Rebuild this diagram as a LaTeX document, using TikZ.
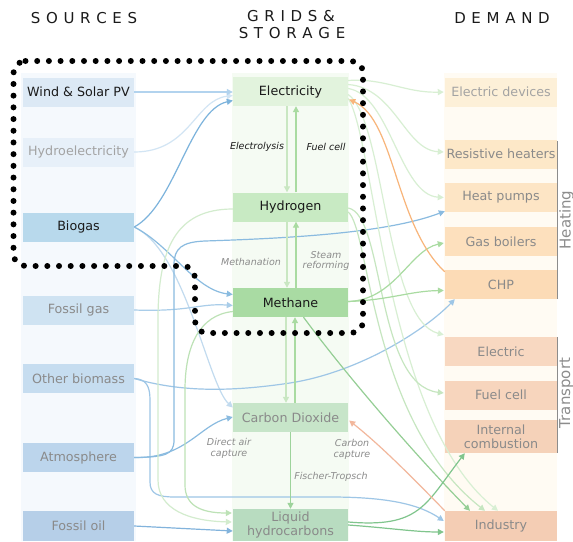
\documentclass[tikz,border=0pt]{standalone}
\usepackage{fontspec}
\setmainfont{DejaVu Sans}
\usetikzlibrary{arrows.meta,calc}
\definecolor{bgS}{HTML}{F5F9FD}
\definecolor{bgM}{HTML}{F5FBF3}
\definecolor{bgD}{HTML}{FFFBF3}
\definecolor{fWind}{HTML}{DCE9F5}
\definecolor{fHydro}{HTML}{E7F0F9}
\definecolor{fBio}{HTML}{B8D9EC}
\definecolor{fFgas}{HTML}{CFE3F2}
\definecolor{fObio}{HTML}{C6DDF0}
\definecolor{fAtm}{HTML}{BCD5EC}
\definecolor{fFoil}{HTML}{B6CFE8}
\definecolor{fElec}{HTML}{E2F3DD}
\definecolor{fH2}{HTML}{C8EAC3}
\definecolor{fMeth}{HTML}{A9DBA3}
\definecolor{fCO2}{HTML}{C7E5C9}
\definecolor{fLH}{HTML}{B8DCC0}
\definecolor{fED}{HTML}{FDF0D8}
\definecolor{fRH}{HTML}{FDE8C8}
\definecolor{fHP}{HTML}{FDE5C5}
\definecolor{fGB}{HTML}{FDE0BD}
\definecolor{fCHP}{HTML}{FCDBB6}
\definecolor{fETR}{HTML}{F8D8C1}
\definecolor{fFC}{HTML}{F7D5BD}
\definecolor{fIC}{HTML}{F5D2B9}
\definecolor{fInd}{HTML}{F4CDB4}
\definecolor{tGray}{HTML}{8A8A8A}
\definecolor{tLight}{HTML}{A3A3A3}
\definecolor{tDark}{HTML}{1A1A1A}
\definecolor{lGray}{HTML}{8C8C8C}
\definecolor{cWind}{HTML}{B2D3EE}
\definecolor{cHydro}{HTML}{D2E5F4}
\definecolor{cBioE}{HTML}{7CB3DC}
\definecolor{cBioM}{HTML}{8BBCE0}
\definecolor{cBioC}{HTML}{C2DBEF}
\definecolor{cFgas}{HTML}{A9CDE9}
\definecolor{cObio}{HTML}{9EC6E6}
\definecolor{cAtm}{HTML}{8ABBE0}
\definecolor{cFoil}{HTML}{82B3DC}
\definecolor{gA}{HTML}{C9E7C2}
\definecolor{gB}{HTML}{A9DBA1}
\definecolor{gC}{HTML}{9DD39B}
\definecolor{gEl}{HTML}{D8EFD3}
\definecolor{gH}{HTML}{C6E6C0}
\definecolor{gM}{HTML}{A9DBA1}
\definecolor{gMi}{HTML}{95CE95}
\definecolor{gL}{HTML}{80C58D}
\definecolor{gHL}{HTML}{D3ECCE}
\definecolor{gML}{HTML}{BDE2B6}
\definecolor{oChp}{HTML}{F8B57A}
\definecolor{oInd}{HTML}{F2B79C}
\definecolor{brk}{HTML}{8C8C8C}
\begin{document}
\begin{tikzpicture}[x=1pt,y=-1pt,
  box/.style={rectangle, inner sep=0pt, minimum height=29pt, font=\fontsize{12.7}{14.5}\selectfont, text=tGray, align=center},
  src/.style={box, minimum width=111pt},
  mid/.style={box, minimum width=115pt},
  dem/.style={box, minimum width=112pt},
  lbl/.style={font=\fontsize{9.5}{10.5}\selectfont\itshape, text=lGray, align=center, inner sep=0pt},
  hdr/.style={font=\fontsize{15}{17}\selectfont, text=tDark, anchor=base, inner sep=0pt},
  arr/.style={-{Triangle[length=6pt,width=6pt]}, line width=1.2pt},
  side/.style={font=\fontsize{15}{17}\selectfont, text=brk, rotate=90, anchor=north, inner sep=0pt}]
\useasboundingbox (0,0) rectangle (573,541);
\fill[white] (0,0) rectangle (573,541);
% column backgrounds
\fill[bgS] (21,73) rectangle (136,541);
\fill[bgM] (232,73) rectangle (349,541);
\fill[bgD] (444,73) rectangle (557,541);
% headers
\def\g{\kern5.7pt}
\node[hdr] (hs) at (84,23) {S\g O\g U\g R\g C\g E\g S};
\node[hdr] (hg) at (291,21) {G\g R\g I\g D\g S\g \&};
\node[hdr] (hst) at (292,38) {S\g T\g O\g R\g A\g G\g E};
\node[hdr] (hd) at (502,23) {D\g E\g M\g A\g N\g D};
% sources
\node[src, fill=fWind, text=tDark] (wind) at (78.5,92) {Wind \& Solar PV};
\node[src, fill=fHydro, text=tLight] (hydro) at (78.5,152) {Hydroelectricity};
\node[src, fill=fBio, text=tDark] (biogas) at (78.5,227) {Biogas};
\node[src, fill=fFgas] (fgas) at (78.5,310) {Fossil gas};
\node[src, fill=fObio] (obio) at (78.5,378.5) {Other biomass};
\node[src, fill=fAtm] (atm) at (78.5,457.5) {Atmosphere};
\node[src, fill=fFoil, minimum height=30pt] (foil) at (78.5,526) {Fossil oil};
% middle
\node[mid, fill=fElec, text=tDark] (elec) at (290.5,91.5) {Electricity};
\node[mid, fill=fH2, text=tDark] (h2) at (290.5,207) {Hydrogen};
\node[mid, fill=fMeth, text=tDark] (meth) at (290.5,302.5) {Methane};
\node[mid, fill=fCO2] (co2) at (290.5,417.5) {Carbon Dioxide};
\node[mid, fill=fLH, minimum height=32pt, font=\fontsize{12.7}{14}\selectfont] (lh) at (290.5,525) {Liquid\\hydrocarbons};
% demand
\node[dem, fill=fED, text=tLight] (ed) at (501,92) {Electric devices};
\node[dem, fill=fRH] (rh) at (501,154) {Resistive heaters};
\node[dem, fill=fHP] (hp) at (501,197.5) {Heat pumps};
\node[dem, fill=fGB] (gb) at (501,241.5) {Gas boilers};
\node[dem, fill=fCHP] (chp) at (501,284.5) {CHP};
\node[dem, fill=fETR] (etr) at (501,351.5) {Electric};
\node[dem, fill=fFC] (fc) at (501,395) {Fuel cell};
\node[dem, fill=fIC, minimum height=33pt, font=\fontsize{12.7}{14}\selectfont] (ic) at (501,436.5) {Internal\\combustion};
\node[dem, fill=fInd, minimum height=30pt] (ind) at (501,526) {Industry};
% brackets
\coordinate (hb1) at (557.5,141); \coordinate (hb2) at (557.5,299);
\coordinate (tb1) at (557.5,337); \coordinate (tb2) at (557.5,453);
\draw[brk, line width=1.5pt] (hb1) -- (hb2);
\draw[brk, line width=1.5pt] (tb1) -- (tb2);
\node[side] (heat) at (559,220) {Heating};
\node[side] (trans) at (559,393) {Transport};
% ---- blue connectors
\draw[arr, cHydro] (hydro.east) .. controls (190,152) and (195,100) .. ($(elec.west)+(0,4)$);
\draw[arr, cWind] (wind.east) -- ($(elec.west)+(0,0.5)$);
\draw[arr, cBioC] (biogas.east) .. controls (185,250) and (208,385) .. ($(co2.west)+(0,-10)$);
\draw[arr, cBioE] (biogas.east) .. controls (175,205) and (190,110) .. ($(elec.west)+(0,9)$);
\draw[arr, cBioM] (biogas.east) .. controls (170,245) and (195,290) .. ($(meth.west)+(0,-8)$);
\draw[arr, cFgas] (fgas.east) .. controls (190,312) and (200,303) .. ($(meth.west)+(0,3)$);
\draw[arr, cObio] (obio.east) .. controls (180,392) and (230,392) .. (290,383) .. controls (360,372) and (425,330) .. ($(chp.south west)+(10,0)$);
\draw[arr, cObio] (obio.east) .. controls (146,379) and (150,386) .. (150,400) -- (150,482) .. controls (150,494) and (158,497) .. (175,497) -- (330,497) .. controls (390,497) and (420,505) .. ($(ind.west)+(-1,-5)$);
\draw[arr, cAtm] (atm.east) .. controls (185,459) and (200,425) .. ($(co2.west)+(0,-0.5)$);
\draw[arr, cAtm] (atm.east) .. controls (165,457) and (174,455) .. (174,440) -- (174,265) .. controls (174,248) and (182,242) .. (205,241) .. controls (300,238) and (390,232) .. ($(hp.south west)+(0,-1)$);
\draw[arr, cFoil] (foil.east) -- ($(lh.west)+(0,6)$);
% ---- green between carriers
\draw[arr, gA] ($(elec.south)+(-3.5,0)$) -- ($(h2.north)+(-3.5,0)$);
\draw[arr, gB] ($(h2.north)+(5.5,0)$) -- ($(elec.south)+(5.5,0)$);
\draw[arr, gA] ($(h2.south)+(-3.5,0)$) -- ($(meth.north)+(-3.5,0)$);
\draw[arr, gB] ($(meth.north)+(5.5,0)$) -- ($(h2.south)+(5.5,0)$);
\draw[arr, gA] ($(meth.south)+(-4.5,0)$) -- ($(co2.north)+(-4.5,0)$);
\draw[arr, gB] ($(co2.north)+(4.5,0)$) -- ($(meth.south)+(4.5,0)$);
\draw[arr, gC] (co2.south) -- (lh.north);
\draw[arr, gHL] ($(h2.west)+(0,2)$) .. controls (175,209) and (158,250) .. (158,320) -- (158,480) .. controls (158,510) and (190,521) .. ($(lh.west)+(-1,-3)$);
\draw[arr, gML] ($(meth.west)+(0,9)$) .. controls (200,315) and (185,345) .. (185,390) -- (185,485) .. controls (185,505) and (200,513) .. ($(lh.west)+(-1,-12)$);
% ---- green to demand
\draw[arr, gEl] ($(elec.east)+(0,-11)$) .. controls (385,78) and (405,93) .. ($(ed.west)+(-1,0)$);
\draw[arr, gEl] ($(elec.east)+(0,-7)$) .. controls (395,88) and (405,150) .. ($(rh.west)+(-1,-2)$);
\draw[arr, gEl] ($(elec.east)+(0,-3)$) .. controls (390,95) and (400,195) .. ($(hp.west)+(-1,0)$);
\draw[arr, gEl] ($(elec.east)+(0,3)$) .. controls (385,120) and (385,320) .. ($(etr.north west)+(-1,-2)$);
\draw[arr, gEl] ($(elec.east)+(0,7)$) .. controls (375,140) and (385,420) .. ($(ind.north)+(-3,0)$);
\draw[arr, gH] ($(h2.east)+(0,1)$) .. controls (385,215) and (375,385) .. ($(fc.west)+(-1,-2)$);
\draw[arr, gH] ($(h2.east)+(0,5)$) .. controls (370,230) and (370,420) .. ($(ind.north)+(-16,0)$);
\draw[arr, gM] ($(meth.east)+(0,-1)$) .. controls (395,300) and (410,250) .. ($(gb.west)+(-1,1.5)$);
\draw[arr, gM] ($(meth.east)+(0,-1)$) .. controls (390,300) and (410,291) .. ($(chp.west)+(-1,6)$);
\draw[arr, gMi] ($(meth.south)+(13,0)$) .. controls (350,380) and (420,460) .. ($(ind.north)+(-31,0)$);
\draw[arr, gL] ($(lh.east)+(0,-3)$) .. controls (420,528) and (425,505) .. ($(ic.south west)+(20,0)$);
\draw[arr, gL] (lh.east) .. controls (390,528) and (415,532) .. ($(ind.west)+(-1,6)$);
% ---- orange
\draw[arr, oChp] ($(chp.north west)+(0,2)$) .. controls (395,225) and (395,120) .. ($(elec.east)+(1,8)$);
\draw[arr, oInd] (ind.north west) .. controls (410,475) and (380,445) .. ($(co2.east)+(1,3)$);
% ---- process labels
\node[lbl, text=tDark] (lel) at (257,147) {Electrolysis};
\node[lbl, text=tDark] (lfc) at (326,147) {Fuel cell};
\node[lbl] (lme) at (251,262) {Methanation};
\node[lbl] (lsr) at (326,261) {Steam\\reforming};
\node[lbl] (lda) at (229,448.5) {Direct air\\capture};
\node[lbl] (lcc) at (352,449.5) {Carbon\\capture};
\node[lbl] (lft) at (331,477) {Fischer-Tropsch};
% ---- dotted outline
\draw[line width=6pt, line cap=round, dash pattern=on 0pt off 11.7pt, rounded corners=12pt]
  (13.5,61) -- (363,61) -- (363,333) -- (195,333) -- (195,266) -- (13.5,266) -- cycle;
\end{tikzpicture}
\end{document}
